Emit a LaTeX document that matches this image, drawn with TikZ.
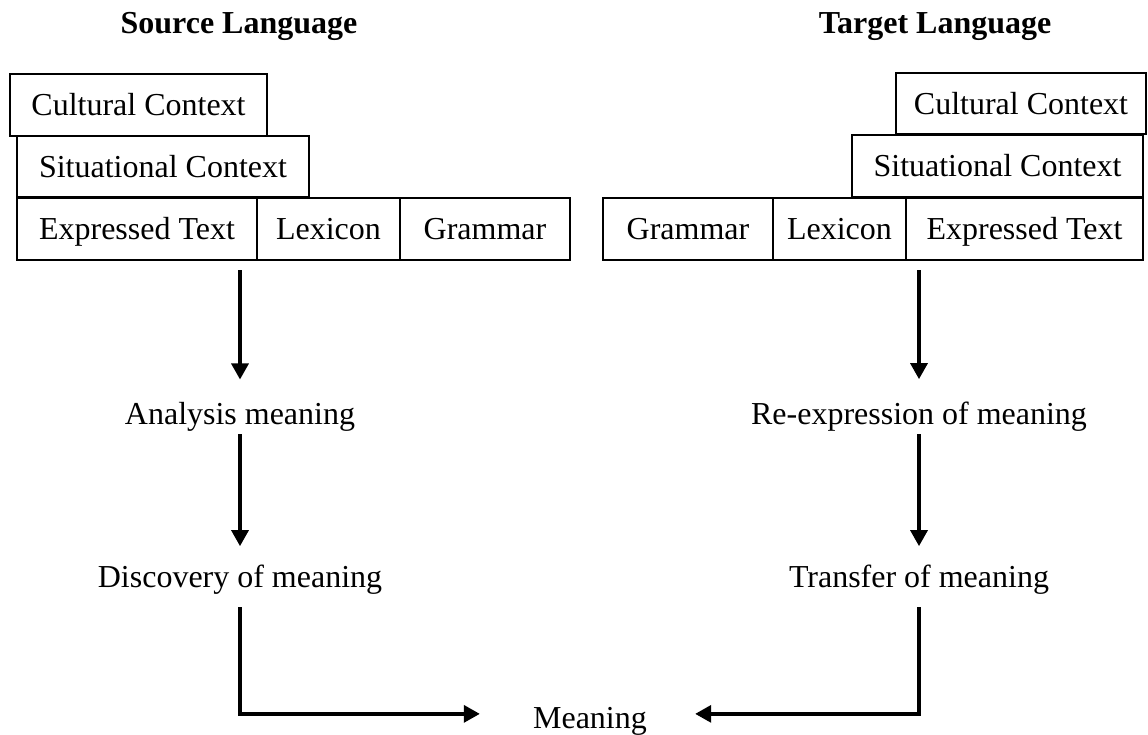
\documentclass[tikz,border=0pt]{standalone}
\usepackage{fontspec}
\setmainfont{Liberation Serif}
\usetikzlibrary{arrows.meta}

\begin{document}
\begin{tikzpicture}[every node/.style={font=\fontsize{18.2pt}{22pt}\selectfont},
            box/.style={draw,line width=0.9pt,outer sep=0pt,inner sep=0pt,text height=0.52cm,text depth=0.10cm},
            word/.style={inner sep=0pt,anchor=base},
            flow/.style={line width=1.9pt,-{Triangle[length=0.32cm,width=0.34cm]}}]
            \useasboundingbox (0,0) rectangle (22.96,14.68);
            \node[word,font=\fontsize{18.2pt}{22pt}\selectfont\bfseries] (srctitle) at (4.78,14.00) {Source Language};
            \node[word,font=\fontsize{18.2pt}{22pt}\selectfont\bfseries] (tgttitle) at (18.70,14.00) {Target Language};
            \node[box,minimum width=5.14cm,minimum height=1.24cm] (lcult) at (2.77,12.58) {Cultural Context};
            \node[box,minimum width=5.84cm,minimum height=1.22cm] (lsit) at (3.26,11.35) {Situational Context};
            \node[box,minimum width=4.80cm,minimum height=1.24cm] (lexp) at (2.74,10.10) {Expressed Text};
            \node[box,minimum width=2.86cm,minimum height=1.24cm] (llex) at (6.57,10.10) {Lexicon};
            \node[box,minimum width=3.40cm,minimum height=1.24cm] (lgram) at (9.70,10.10) {Grammar};
            \node[box,minimum width=5.00cm,minimum height=1.22cm] (rcult) at (20.42,12.61) {Cultural Context};
            \node[box,minimum width=5.82cm,minimum height=1.24cm] (rsit) at (19.95,11.36) {Situational Context};
            \node[box,minimum width=3.40cm,minimum height=1.24cm] (rgram) at (13.76,10.10) {Grammar};
            \node[box,minimum width=2.66cm,minimum height=1.24cm] (rlex) at (16.79,10.10) {Lexicon};
            \node[box,minimum width=4.74cm,minimum height=1.24cm] (rexp) at (20.49,10.10) {Expressed Text};
            \node[word] (ana) at (4.80,6.20) {Analysis meaning};
            \node[word] (disc) at (4.80,2.94) {Discovery of meaning};
            \node[word] (reexp) at (18.38,6.20) {Re-expression of meaning};
            \node[word] (trans) at (18.38,2.94) {Transfer of meaning};
            \node[word] (mean) at (11.80,0.12) {Meaning};
            \draw[flow,shorten <=0.2cm,shorten >=0.44cm] (ana.north |- lexp.south) -- (ana.north);
            \draw[flow,shorten <=0.06cm,shorten >=0.36cm] (ana.south) -- (disc.north);
            \draw[flow,shorten <=0.2cm,shorten >=0.44cm] (reexp.north |- rexp.south) -- (reexp.north);
            \draw[flow,shorten <=0.06cm,shorten >=0.36cm] (reexp.south) -- (trans.north);
            \draw[flow,shorten <=0.26cm,shorten >=1.06cm] (disc.south) |- ([yshift=0.14cm]mean.west);
            \draw[flow,shorten <=0.26cm,shorten >=0.96cm] (trans.south) |- ([yshift=0.14cm]mean.east);
        \end{tikzpicture}
\end{document}
